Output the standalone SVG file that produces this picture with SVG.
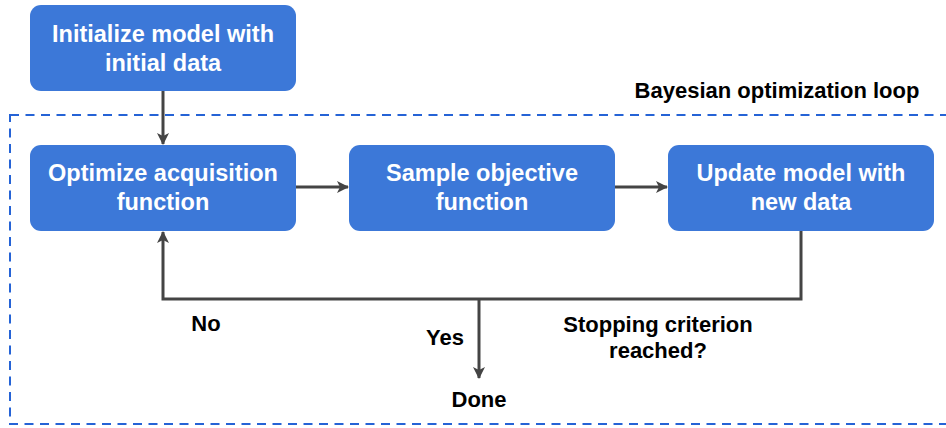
<svg xmlns="http://www.w3.org/2000/svg" width="946" height="428" viewBox="0 0 946 428">
<style>
.node rect{fill:#3c78d8}
.nt{font-family:"Liberation Sans",Arial,sans-serif;font-weight:bold;font-size:23.5px;fill:#fff;text-anchor:middle}
.lbl{font-family:"Liberation Sans",Arial,sans-serif;font-weight:bold;font-size:22px;fill:#000;text-anchor:middle}
.title{font-family:"Liberation Sans",Arial,sans-serif;font-weight:bold;font-size:22px;fill:#000;text-anchor:middle}
.c{fill:none;stroke:#444;stroke-width:3}
</style>
<defs>
<marker id="ah" viewBox="0 0 12 12" refX="11" refY="6" markerWidth="12" markerHeight="12" markerUnits="userSpaceOnUse" orient="auto">
<path d="M0,0 L12,6 L0,12 L3,6 Z" fill="#444"/>
</marker>
</defs>
<rect id="loop" x="10" y="115" width="950" height="309" fill="none" stroke="#2563d6" stroke-width="2" stroke-dasharray="9,6.5"/>
<text class="title" x="777" y="98">Bayesian optimization loop</text>
<g id="n-init" class="node">
<rect x="30" y="5" width="266" height="86" rx="11"/>
<text class="nt" x="163" y="42">Initialize model with</text>
<text class="nt" x="163" y="71">initial data</text>
</g>
<g id="n-opt" class="node">
<rect x="30" y="145" width="266" height="86" rx="11"/>
<text class="nt" x="163" y="181">Optimize acquisition</text>
<text class="nt" x="163" y="210">function</text>
</g>
<g id="n-sample" class="node">
<rect x="349" y="145" width="266" height="86" rx="11"/>
<text class="nt" x="482" y="181">Sample objective</text>
<text class="nt" x="482" y="210">function</text>
</g>
<g id="n-update" class="node">
<rect x="668" y="145" width="266" height="86" rx="11"/>
<text class="nt" x="801" y="181">Update model with</text>
<text class="nt" x="801" y="210">new data</text>
</g>
<g id="connectors">
<path class="c" d="M163,91 V144" marker-end="url(#ah)"/>
<path class="c" d="M296,187 H348" marker-end="url(#ah)"/>
<path class="c" d="M615,187 H667" marker-end="url(#ah)"/>
<path class="c" d="M801,231 V299 H163 V232" marker-end="url(#ah)"/>
<path class="c" d="M479,299 V378" marker-end="url(#ah)"/>
</g>
<text class="lbl" x="206" y="331">No</text>
<text class="lbl" x="445" y="345">Yes</text>
<text class="lbl" x="658" y="332">Stopping criterion</text>
<text class="lbl" x="658" y="358">reached?</text>
<text class="lbl" x="479" y="407">Done</text>
</svg>
